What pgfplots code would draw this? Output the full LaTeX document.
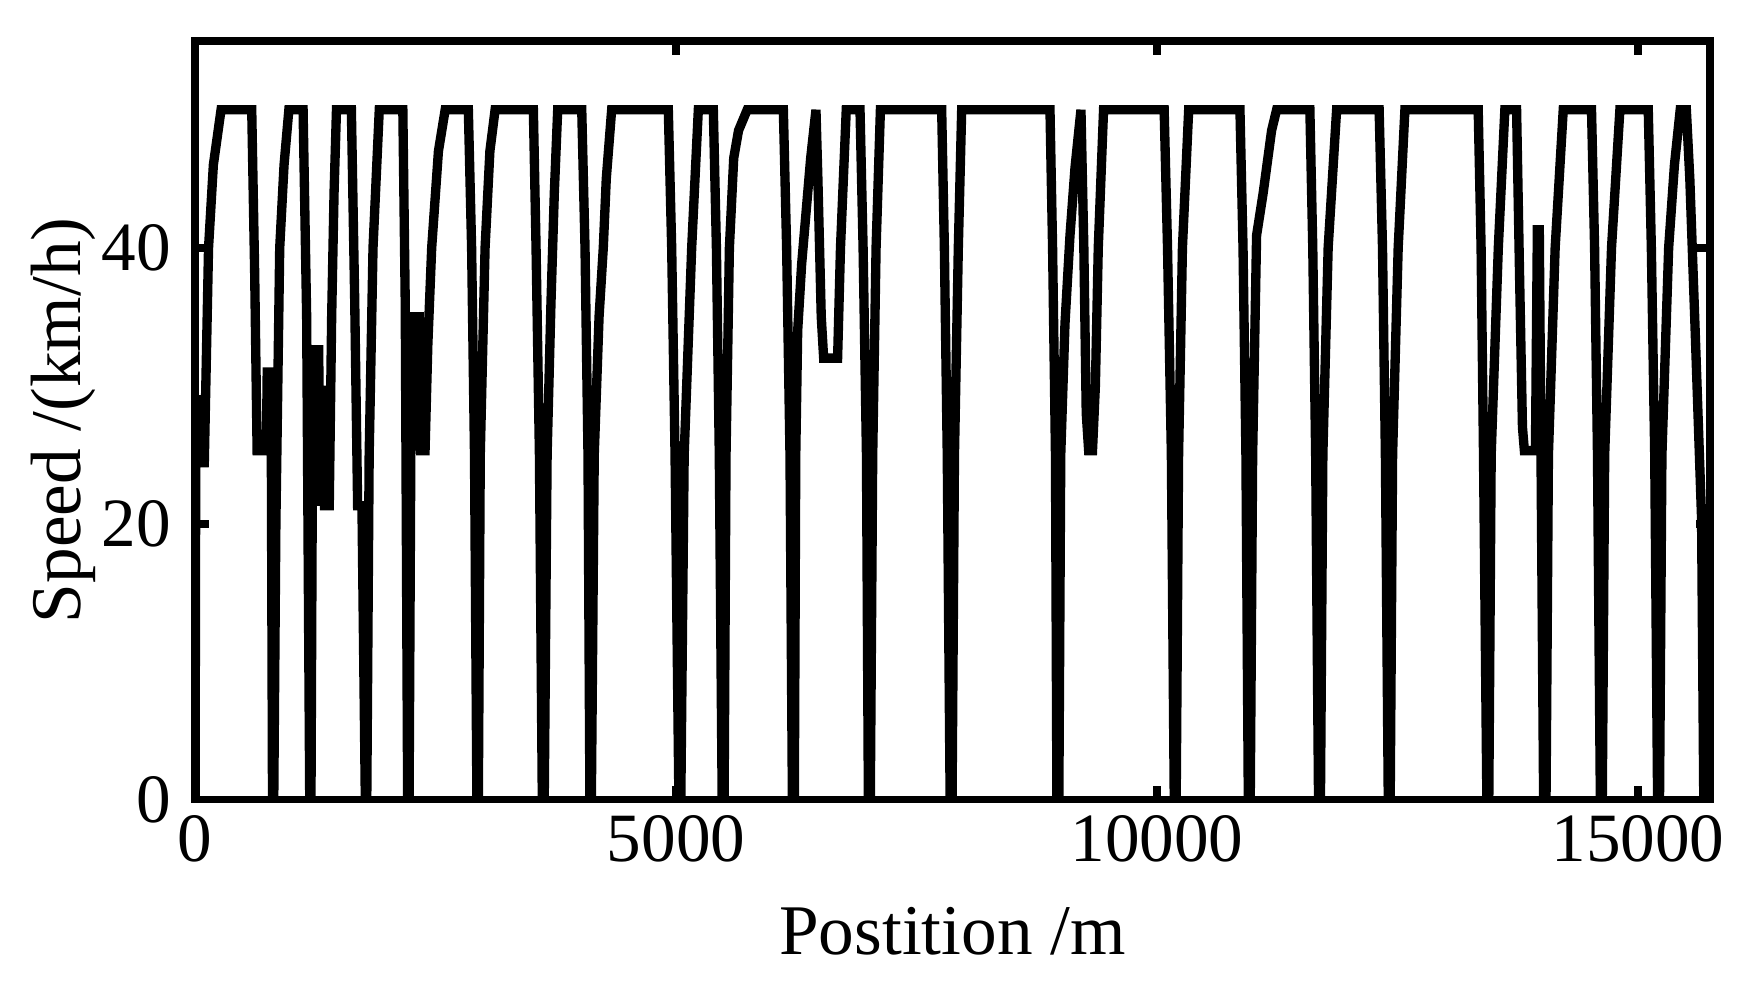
\documentclass[border=0pt]{standalone}
\usepackage{fontspec}
\setmainfont{Liberation Serif}
\usepackage{pgfplots}
\pgfplotsset{compat=1.18}
\begin{document}
\begin{tikzpicture}
\useasboundingbox (-28.2pt,-26.3pt) rectangle (224.2pt,115.6pt);
\begin{axis}[
  at={(0,0)}, anchor=south west,
  width=219pt, height=109.7pt, scale only axis,
  xmin=0, xmax=15750, ymin=0, ymax=55,
  xtick={0,5000,10000,15000}, ytick={0,20,40},
  tick align=inside, major tick length=2pt,
  axis line style={line width=1.1pt},
  every tick/.style={line width=1.1pt, black},
  scaled ticks=false,
  /pgf/number format/assume math mode=true,
  /pgf/number format/set thousands separator={},
  xlabel={Postition /m}, ylabel={Speed /(km/h)},
  xticklabel shift=-1.3pt,
  ylabel shift=-6pt,
  xlabel shift=-0.3pt,
  tick label style={font=\fontsize{10}{12}\selectfont},
  label style={font=\fontsize{10.3}{12}\selectfont},
]
\addplot[black, line width=1.35pt] coordinates {
(0,0) (8,29.3) (35,24.1) (65,29.3) (95,24.1) (140,40) (190,46) (270,50)
(589,50) (620,38) (645,25.3) (741,25.3) (750,31) (790,31) (805,0) (818,0) (840,20) (880,40) (925,46) (975,50)
(1123,50) (1160,35) (1192,0) (1205,0) (1225,32.6) (1285,32.6) (1300,21.3) (1330,30) (1345,21.3) (1395,21.3) (1420,35) (1445,44) (1470,50)
(1625,50) (1660,36) (1690,21.3) (1735,21.3) (1770,0) (1785,0) (1810,25) (1850,40) (1915,50)
(2160,50) (2185,36) (2210,0) (2225,0) (2250,35) (2330,35) (2345,25.3) (2391,25.3) (2420,33) (2460,40) (2530,47) (2600,50)
(2841,50) (2875,40) (2905,25) (2930,0) (2945,0) (2965,25) (3015,40) (3065,47) (3119,50)
(3517,50) (3545,40) (3580,25) (3610,0) (3630,0) (3660,25) (3700,36) (3735,44) (3770,50)
(4020,50) (4054,40) (4085,25) (4105,0) (4120,0) (4150,25) (4200,35) (4244,40) (4275,45) (4331,50)
(4920,50) (4955,40) (4990,25) (5030,0) (5050,0) (5085,25) (5163,40) (5232,50)
(5388,50) (5420,40) (5450,25) (5480,0) (5500,0) (5520,25) (5555,40) (5600,46.5) (5650,48.5) (5740,50)
(6116,50) (6150,40) (6185,25) (6210,0) (6230,0) (6245,25) (6265,34) (6306,38.8) (6400,46.5) (6455,50) (6475,45) (6510,35) (6535,32) (6680,32) (6710,40) (6770,50)
(6913,50) (6945,40) (6980,25) (7000,0) (7020,0) (7045,25) (7080,40) (7125,50)
(7762,50) (7790,40) (7820,25) (7850,0) (7870,0) (7895,25) (7935,40) (7970,50)
(8888,50) (8915,40) (8945,25) (8960,0) (8980,0) (9000,25) (9044,34.5) (9096,40.9) (9148,45.8) (9210,50) (9240,40) (9265,28) (9290,25.3) (9330,25.3) (9360,30) (9390,40) (9445,50)
(10075,50) (10110,40) (10150,25) (10180,0) (10200,0) (10225,25) (10265,40) (10330,50)
(10863,50) (10895,40) (10925,25) (10950,0) (10970,0) (10995,25) (11036,40.9) (11105,44) (11192,48.5) (11244,50)
(11590,50) (11620,40) (11650,25) (11680,0) (11700,0) (11725,25) (11780,40) (11868,50)
(12310,50) (12345,40) (12375,25) (12405,0) (12425,0) (12450,25) (12508,40) (12578,50)
(13340,50) (13370,40) (13395,25) (13430,0) (13450,0) (13475,25) (13549,40) (13617,50)
(13739,50) (13770,38) (13800,27) (13820,25.3) (13935,25.3) (13955,41.3) (13975,41.3) (14020,0) (14045,0) (14070,25) (14140,40) (14224,50)
(14518,50) (14550,40) (14580,25) (14610,0) (14630,0) (14655,25) (14726,40) (14813,50)
(15108,50) (15140,40) (15175,25) (15205,0) (15225,0) (15250,25) (15320,40) (15380,46) (15440,50) (15504,50) (15540,45) (15593,34.5) (15662,20.4) (15685,0)
};
\end{axis}
\end{tikzpicture}
\end{document}
